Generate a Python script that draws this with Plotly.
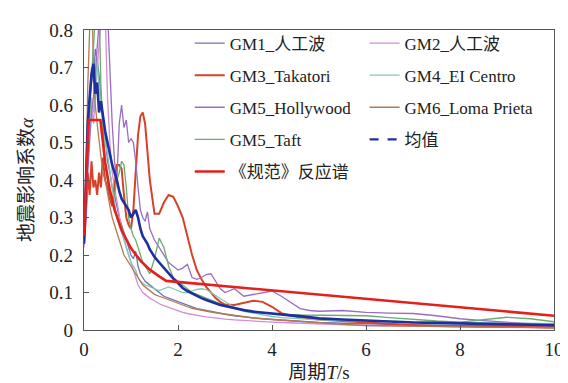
import plotly.graph_objects as go

# ---- data ----
periods = [0, 0.04, 0.08, 0.12, 0.16, 0.2, 0.24, 0.28, 0.32, 0.36, 0.4, 0.45, 0.5, 0.55, 0.6,
           0.65, 0.7, 0.75, 0.8, 0.85, 0.9, 0.95, 1.0, 1.05, 1.1, 1.15, 1.2, 1.25, 1.3, 1.35,
           1.4, 1.5, 1.6, 1.7, 1.8, 1.9, 2.0, 2.1, 2.2, 2.3, 2.4, 2.5, 2.6, 2.7, 2.8, 2.9,
           3.0, 3.2, 3.4, 3.6, 3.8, 4.0, 4.2, 4.4, 4.6, 4.8, 5.0, 5.5, 6.0, 6.5, 7.0, 7.5,
           8.0, 8.5, 9.0, 9.5, 10.0]

gm1 = [0.23, 0.35, 0.55, 0.62, 0.70, 0.66, 0.75, 0.72, 0.68, 0.62, 0.58, 0.52, 0.45, 0.42, 0.38,
       0.36, 0.33, 0.30, 0.28, 0.26, 0.24, 0.22, 0.20, 0.19, 0.21, 0.17, 0.15, 0.14, 0.13, 0.125,
       0.12, 0.11, 0.10, 0.09, 0.085, 0.08, 0.075, 0.07, 0.065, 0.06, 0.057, 0.055, 0.052, 0.05, 0.048, 0.045,
       0.042, 0.038, 0.035, 0.032, 0.03, 0.028, 0.026, 0.024, 0.023, 0.022, 0.02, 0.018, 0.016, 0.015, 0.014, 0.013,
       0.012, 0.011, 0.011, 0.01, 0.01]

gm2 = [0.22, 0.30, 0.45, 0.52, 0.60, 0.55, 0.62, 0.70, 0.78, 0.85, 0.90, 0.85, 0.62, 0.50, 0.42,
       0.38, 0.34, 0.30, 0.27, 0.25, 0.22, 0.20, 0.18, 0.16, 0.14, 0.12, 0.11, 0.10, 0.095, 0.09,
       0.085, 0.078, 0.07, 0.065, 0.06, 0.055, 0.05, 0.047, 0.044, 0.041, 0.039, 0.037, 0.035, 0.033, 0.031, 0.03,
       0.029, 0.027, 0.025, 0.023, 0.022, 0.021, 0.02, 0.019, 0.018, 0.017, 0.016, 0.014, 0.012, 0.011, 0.01, 0.009,
       0.008, 0.008, 0.007, 0.007, 0.006]

gm3 = [0.23, 0.30, 0.42, 0.36, 0.45, 0.38, 0.40, 0.36, 0.42, 0.38, 0.46, 0.40, 0.38, 0.35, 0.33,
       0.38, 0.44, 0.44, 0.43, 0.36, 0.30, 0.28, 0.27, 0.32, 0.42, 0.52, 0.57, 0.58, 0.55, 0.47,
       0.40, 0.31, 0.31, 0.34, 0.36, 0.355, 0.33, 0.30, 0.25, 0.20, 0.16, 0.135, 0.115, 0.10, 0.085, 0.075,
       0.068, 0.067, 0.072, 0.078, 0.075, 0.062, 0.045, 0.038, 0.034, 0.03, 0.028, 0.024, 0.02, 0.016, 0.013, 0.011,
       0.01, 0.009, 0.008, 0.008, 0.007]

gm4 = [0.23, 0.32, 0.48, 0.55, 0.62, 0.58, 0.66, 0.72, 0.65, 0.60, 0.55, 0.50, 0.47, 0.42, 0.38,
       0.34, 0.30, 0.28, 0.26, 0.24, 0.22, 0.20, 0.18, 0.17, 0.16, 0.14, 0.13, 0.125, 0.12, 0.118,
       0.116, 0.11, 0.105, 0.11, 0.115, 0.11, 0.105, 0.10, 0.10, 0.105, 0.108, 0.11, 0.108, 0.10, 0.092, 0.085,
       0.075, 0.06, 0.05, 0.045, 0.04, 0.036, 0.033, 0.031, 0.029, 0.028, 0.027, 0.025, 0.024, 0.023, 0.022, 0.021,
       0.02, 0.02, 0.019, 0.018, 0.017]

gm5_hollywood = [0.23, 0.30, 0.42, 0.50, 0.58, 0.62, 0.70, 0.78, 0.85, 0.90, 0.95, 0.92, 0.85, 0.70, 0.55,
                 0.45, 0.40, 0.55, 0.60, 0.54, 0.56, 0.50, 0.51, 0.50, 0.45, 0.38, 0.32, 0.30, 0.29, 0.315,
                 0.27, 0.24, 0.22, 0.20, 0.18, 0.17, 0.16, 0.165, 0.175, 0.14, 0.135, 0.14, 0.148, 0.15, 0.13, 0.11,
                 0.10, 0.11, 0.09, 0.095, 0.10, 0.104, 0.09, 0.073, 0.057, 0.052, 0.05, 0.052, 0.047, 0.045, 0.044, 0.038,
                 0.03, 0.025, 0.02, 0.015, 0.012]

gm6 = [0.23, 0.40, 0.65, 0.90, 0.95, 0.70, 0.60, 0.55, 0.50, 0.45, 0.42, 0.40, 0.36, 0.33, 0.30,
       0.28, 0.26, 0.24, 0.22, 0.20, 0.19, 0.18, 0.17, 0.16, 0.15, 0.14, 0.13, 0.12, 0.115, 0.11,
       0.105, 0.095, 0.09, 0.085, 0.08, 0.075, 0.07, 0.066, 0.062, 0.058, 0.055, 0.052, 0.05, 0.048, 0.046, 0.044,
       0.042, 0.038, 0.035, 0.032, 0.03, 0.028, 0.026, 0.024, 0.022, 0.02, 0.018, 0.015, 0.012, 0.011, 0.01, 0.009,
       0.008, 0.008, 0.007, 0.007, 0.006]

gm5_taft = [0.23, 0.33, 0.50, 0.58, 0.66, 0.75, 0.85, 0.92, 0.88, 0.65, 0.55, 0.45, 0.40, 0.36, 0.34,
            0.36, 0.40, 0.42, 0.45, 0.44, 0.38, 0.30, 0.27, 0.25, 0.24, 0.22, 0.20, 0.18, 0.17, 0.16,
            0.15, 0.19, 0.245, 0.22, 0.17, 0.14, 0.13, 0.12, 0.11, 0.10, 0.095, 0.09, 0.085, 0.08, 0.075, 0.07,
            0.065, 0.058, 0.052, 0.048, 0.045, 0.043, 0.042, 0.041, 0.04, 0.04, 0.04, 0.039, 0.038, 0.033, 0.028, 0.024,
            0.021, 0.028, 0.034, 0.03, 0.022]

mean = [0.23, 0.38, 0.55, 0.62, 0.68, 0.71, 0.63, 0.66, 0.58, 0.61, 0.57, 0.53, 0.50, 0.47, 0.44,
        0.42, 0.40, 0.37, 0.35, 0.34, 0.33, 0.32, 0.30, 0.31, 0.32, 0.30, 0.27, 0.25, 0.24, 0.23,
        0.215, 0.195, 0.18, 0.165, 0.15, 0.137, 0.125, 0.112, 0.104, 0.097, 0.09, 0.085, 0.08, 0.075, 0.07, 0.067,
        0.064, 0.058, 0.053, 0.049, 0.046, 0.044, 0.042, 0.039, 0.037, 0.034, 0.031, 0.028, 0.025, 0.022, 0.02, 0.019,
        0.017, 0.016, 0.015, 0.014, 0.013]

code_periods = [0, 0.1, 0.35, 0.45, 0.55, 0.65, 0.8, 1.0, 1.2, 1.4, 1.6, 1.75, 10]
code_alpha = [0.25, 0.56, 0.56, 0.447, 0.373, 0.321, 0.266, 0.218, 0.185, 0.161, 0.143, 0.131, 0.038]

series = [
    ("GM1_人工波", gm1, "#7074ac", 1.3, "legend"),
    ("GM2_人工波", gm2, "#d48ed4", 1.3, "legend2"),
    ("GM3_Takatori", gm3, "#d8402a", 2.0, "legend"),
    ("GM4_EI Centro", gm4, "#82c8ba", 1.3, "legend2"),
    ("GM5_Hollywood", gm5_hollywood, "#9a6cc2", 1.3, "legend"),
    ("GM6_Loma Prieta", gm6, "#b27a52", 1.3, "legend2"),
    ("GM5_Taft", gm5_taft, "#6eaa6e", 1.3, "legend"),
]

FONT = "Liberation Serif, Noto Sans CJK SC, serif"

fig = go.Figure()
for i, (name, vals, color, w, lg) in enumerate(series):
    fig.add_trace(go.Scatter(x=periods, y=vals, mode="lines", name=name,
                             line=dict(color=color, width=w), legend=lg,
                             legendgroup="g%d" % i))

fig.add_trace(go.Scatter(x=periods, y=mean, mode="lines", name="均值",
                         line=dict(color="#1f2f9e", width=2.6), showlegend=False))
fig.add_trace(go.Scatter(x=[None], y=[None], mode="lines", name="均值",
                         line=dict(color="#1f2f9e", width=2.2, dash="dash"),
                         legend="legend2", legendgroup="gmean"))
fig.add_trace(go.Scatter(x=code_periods, y=code_alpha, mode="lines", name="《规范》反应谱",
                         line=dict(color="#e3201c", width=2.6), legend="legend",
                         legendgroup="gcode"))

axis_common = dict(showline=True, linecolor="#555555", linewidth=1.2, mirror=True,
                   ticks="inside", ticklen=5, tickcolor="#555555", showgrid=False,
                   zeroline=False, tickfont=dict(family=FONT, size=19, color="#222222"))

fig.update_layout(
    width=568, height=383,
    margin=dict(l=76, r=18, t=16, b=58),
    paper_bgcolor="white", plot_bgcolor="white",
    font=dict(family=FONT, size=17, color="#222222"),
    xaxis=dict(range=[0, 10], dtick=2, ticklabelstandoff=2,
               title=dict(text="周期<i>T</i>/s", font=dict(family=FONT, size=19), standoff=6),
               **axis_common),
    yaxis=dict(range=[0, 0.8], dtick=0.1, ticklabelstandoff=6,
               title=dict(text="地震影响系数<i>α</i>", font=dict(family=FONT, size=19), standoff=10),
               **axis_common),
    legend=dict(x=0.225, y=1.015, xanchor="left", yanchor="top", bgcolor="rgba(0,0,0,0)",
                tracegroupgap=7, font=dict(family=FONT, size=17)),
    legend2=dict(x=0.597, y=1.015, xanchor="left", yanchor="top", bgcolor="rgba(0,0,0,0)",
                 tracegroupgap=7, font=dict(family=FONT, size=17)),
    showlegend=True,
)

fig.write_html("out.html")
